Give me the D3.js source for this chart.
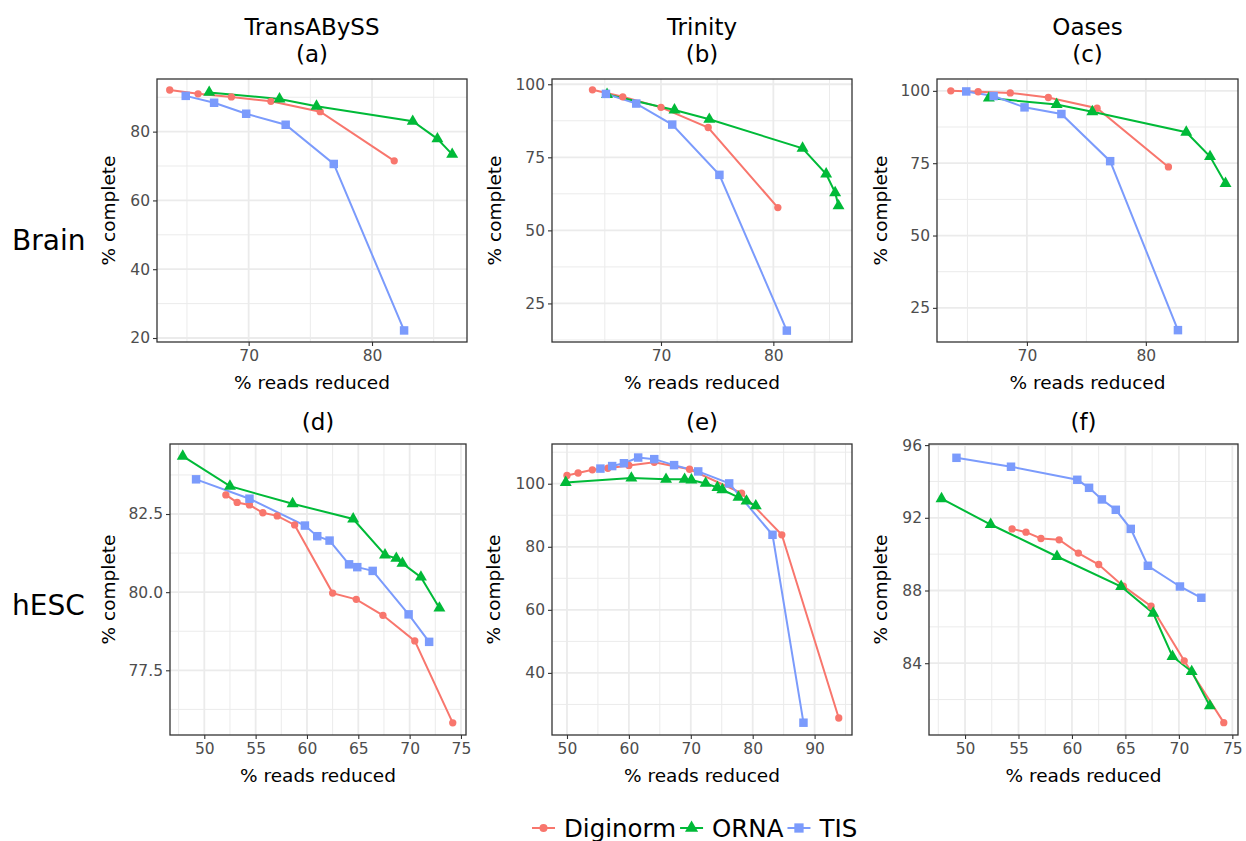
<!DOCTYPE html>
<html><head><meta charset="utf-8">
<script src="https://cdn.jsdelivr.net/npm/d3@7"></script>
<style>
body{margin:0;background:#fff}
svg{display:block}
text{font-family:"DejaVu Sans",sans-serif}
</style>
</head><body>
<svg id="chart" width="1246" height="841"></svg>
<script>
// ---------------- data ----------------
const methods = ["Diginorm", "ORNA", "TIS"];
const methodColors = ["#F8766D", "#00BA38", "#7B9BFC"];
const assemblers = ["TransABySS", "Trinity", "Oases"];
const tissues = ["Brain", "hESC"];
const panelLabels = ["(a)", "(b)", "(c)", "(d)", "(e)", "(f)"];
const xTitle = "% reads reduced";
const yTitle = "% complete";

// (a) TransABySS / Brain   [% reads reduced, % complete]
const aDiginorm = [[63.6,92.1],[65.9,91.0],[68.6,90.1],[71.8,88.8],[75.8,85.8],[81.8,71.5]];
const aORNA     = [[66.8,91.4],[72.5,89.5],[75.5,87.4],[83.3,83.0],[85.3,77.9],[86.5,73.4]];
const aTIS      = [[64.9,90.4],[67.2,88.4],[69.8,85.2],[73.0,82.0],[76.9,70.6],[82.6,22.2]];
// (b) Trinity / Brain
const bDiginorm = [[63.9,98.1],[66.6,95.7],[70.0,92.1],[74.2,85.2],[80.4,57.8]];
const bORNA     = [[65.2,96.5],[71.2,91.2],[74.3,88.0],[82.6,78.1],[84.7,69.3],[85.5,62.9],[85.8,58.4]];
const bTIS      = [[65.1,96.7],[67.8,93.4],[71.0,86.2],[75.2,69.0],[81.2,15.7]];
// (c) Oases / Brain
const cDiginorm = [[63.6,100.0],[65.9,99.7],[68.6,99.3],[71.8,97.7],[75.9,94.0],[81.9,73.7]];
const cORNA     = [[66.8,97.5],[72.5,95.3],[75.5,92.8],[83.4,85.7],[85.4,77.3],[86.7,68.0]];
const cTIS      = [[64.9,99.8],[67.2,98.2],[69.8,94.3],[72.9,92.0],[77.0,75.7],[82.7,17.3]];
// (d) TransABySS / hESC
const dDiginorm = [[52.1,83.11],[53.2,82.87],[54.4,82.79],[55.7,82.54],[57.1,82.44],[58.8,82.15],[62.5,79.97],[64.8,79.77],[67.4,79.26],[70.5,78.44],[74.2,75.82]];
const dORNA     = [[47.9,84.35],[52.5,83.39],[58.6,82.83],[64.5,82.34],[67.6,81.19],[68.7,81.08],[69.3,80.92],[71.1,80.48],[72.9,79.49]];
const dTIS      = [[49.2,83.61],[54.4,82.99],[59.8,82.13],[61.0,81.79],[62.2,81.65],[64.1,80.89],[64.9,80.80],[66.4,80.68],[69.9,79.29],[71.9,78.41]];
// (e) Trinity / hESC
const eDiginorm = [[50.0,102.6],[51.8,103.4],[54.1,104.4],[56.6,104.9],[60.0,105.8],[64.1,106.8],[69.8,104.6],[78.2,97.0],[84.7,83.8],[93.9,25.7]];
const eORNA     = [[49.8,100.4],[60.4,101.8],[66.0,101.4],[69.0,101.4],[70.1,101.2],[72.4,100.1],[74.3,98.8],[75.1,98.1],[77.7,95.7],[79.0,94.5],[80.5,93.0]];
const eTIS      = [[55.4,104.8],[57.3,105.6],[59.2,106.5],[61.5,108.3],[64.1,107.8],[67.3,105.9],[71.2,103.9],[76.2,100.1],[83.2,83.8],[88.2,24.2]];
// (f) Oases / hESC
const fDiginorm = [[54.4,91.39],[55.7,91.21],[57.1,90.86],[58.8,90.79],[60.6,90.06],[62.5,89.43],[64.8,88.24],[67.4,87.14],[70.5,84.13],[74.2,80.73]];
const fORNA     = [[47.8,93.05],[52.4,91.63],[58.6,89.87],[64.6,88.22],[67.6,86.75],[69.4,84.37],[71.2,83.54],[72.9,81.65]];
const fTIS      = [[49.2,95.30],[54.3,94.81],[60.5,94.09],[61.6,93.65],[62.8,93.01],[64.1,92.44],[65.5,91.39],[67.1,89.36],[70.1,88.22],[72.1,87.60]];

// axis limits and ticks
const xLimits = [[62.57,87.7],[60.3,87.0],[62.44,87.75],[46.66,75.49],[47.58,96.04],[46.63,75.53]];
const yLimits = [[18.84,95.3],[11.8,101.8],[13.2,104.1],[75.43,84.74],[20.3,112.6],[80.05,96.06]];
const xTicks = [[70,80],[70,80],[70,80],[50,55,60,65,70,75],[50,60,70,80,90],[50,55,60,65,70,75]];
const yTicks = [[20,40,60,80],[25,50,75,100],[25,50,75,100],[77.5,80.0,82.5],[40,60,80,100],[84,88,92,96]];
const yTickFormats = ["d","d","d",".1f","d","d"];

const panelSeries = [
  [aDiginorm, aORNA, aTIS],
  [bDiginorm, bORNA, bTIS],
  [cDiginorm, cORNA, cTIS],
  [dDiginorm, dORNA, dTIS],
  [eDiginorm, eORNA, eTIS],
  [fDiginorm, fORNA, fTIS]
];

// ---------------- layout ----------------
const boxes = [
  {l:157, t:79,  r:467,  b:342, ytx:115},
  {l:552, t:79,  r:852,  b:342, ytx:501},
  {l:937, t:79,  r:1238, b:342, ytx:887},
  {l:170, t:444, r:466,  b:735, ytx:115},
  {l:552, t:444, r:852,  b:735, ytx:500},
  {l:929, t:444, r:1238, b:735, ytx:887}
];
const FS = {tick:15.5, axis:18.5, title:23, row:28, legend:24.5};

const svg = d3.select("#chart");
const symbolTypes = [d3.symbolCircle, d3.symbolTriangle, d3.symbolSquare];
const symbolSizes = [42, 62, 72];

function minorBreaks(ticks, dom) {
  const step = ticks.length > 1 ? ticks[1] - ticks[0] : 10;
  const out = [];
  for (let v = ticks[0] - step / 2; v <= ticks[ticks.length - 1] + step / 2 + 1e-9; v += step) {
    if (v >= dom[0] && v <= dom[1]) out.push(v);
  }
  return out;
}

boxes.forEach((bx, i) => {
  const x = d3.scaleLinear().domain(xLimits[i]).range([bx.l, bx.r]);
  const y = d3.scaleLinear().domain(yLimits[i]).range([bx.b, bx.t]);
  const g = svg.append("g");

  g.append("rect").attr("x", bx.l).attr("y", bx.t).attr("width", bx.r - bx.l).attr("height", bx.b - bx.t).attr("fill", "#fff");

  const grid = g.append("g");
  minorBreaks(xTicks[i], xLimits[i]).forEach(v => grid.append("line")
    .attr("x1", x(v)).attr("x2", x(v)).attr("y1", bx.t).attr("y2", bx.b)
    .attr("stroke", "#ebebeb").attr("stroke-width", 1));
  minorBreaks(yTicks[i], yLimits[i]).forEach(v => grid.append("line")
    .attr("y1", y(v)).attr("y2", y(v)).attr("x1", bx.l).attr("x2", bx.r)
    .attr("stroke", "#ebebeb").attr("stroke-width", 1));
  xTicks[i].forEach(v => grid.append("line")
    .attr("x1", x(v)).attr("x2", x(v)).attr("y1", bx.t).attr("y2", bx.b)
    .attr("stroke", "#ebebeb").attr("stroke-width", 1.8));
  yTicks[i].forEach(v => grid.append("line")
    .attr("y1", y(v)).attr("y2", y(v)).attr("x1", bx.l).attr("x2", bx.r)
    .attr("stroke", "#ebebeb").attr("stroke-width", 1.8));

  const line = d3.line().x(d => x(d[0])).y(d => y(d[1]));
  panelSeries[i].forEach((s, k) => {
    g.append("path").attr("d", line(s)).attr("fill", "none")
      .attr("stroke", methodColors[k]).attr("stroke-width", 2);
  });
  panelSeries[i].forEach((s, k) => {
    const sym = d3.symbol().type(symbolTypes[k]).size(symbolSizes[k]);
    g.selectAll(null).data(s).enter().append("path")
      .attr("d", sym)
      .attr("transform", d => `translate(${x(d[0])},${y(d[1])})`)
      .attr("fill", methodColors[k]);
  });

  g.append("rect").attr("x", bx.l).attr("y", bx.t).attr("width", bx.r - bx.l).attr("height", bx.b - bx.t)
    .attr("fill", "none").attr("stroke", "#333333").attr("stroke-width", 1.3);

  const xAxis = d3.axisBottom(x).tickValues(xTicks[i]).tickSize(4).tickPadding(4).tickFormat(d3.format("d"));
  const yAxis = d3.axisLeft(y).tickValues(yTicks[i]).tickSize(4).tickPadding(3).tickFormat(d3.format(yTickFormats[i]));
  const gx = g.append("g").attr("transform", `translate(0,${bx.b})`).call(xAxis);
  const gy = g.append("g").attr("transform", `translate(${bx.l},0)`).call(yAxis);
  [gx, gy].forEach(a => {
    a.select(".domain").remove();
    a.selectAll(".tick line").attr("stroke", "#333333").attr("stroke-width", 1.1);
    a.selectAll(".tick text").attr("fill", "#4d4d4d").style("font-size", FS.tick + "px")
      .style("font-family", '"DejaVu Sans",sans-serif');
  });

  const cx = (bx.l + bx.r) / 2;
  g.append("text").attr("x", cx).attr("y", bx.b + 47).attr("text-anchor", "middle")
    .style("font-size", FS.axis + "px").attr("fill", "#000").text(xTitle);
  g.append("text").attr("transform", `translate(${bx.ytx},${(bx.t + bx.b) / 2}) rotate(-90)`)
    .attr("text-anchor", "middle").style("font-size", FS.axis + "px").attr("fill", "#000").text(yTitle);

  if (i < 3) {
    g.append("text").attr("x", cx).attr("y", 35).attr("text-anchor", "middle")
      .style("font-size", FS.title + "px").text(assemblers[i]);
    g.append("text").attr("x", cx).attr("y", 62).attr("text-anchor", "middle")
      .style("font-size", FS.title + "px").text(panelLabels[i]);
  } else {
    g.append("text").attr("x", cx).attr("y", 430).attr("text-anchor", "middle")
      .style("font-size", FS.title + "px").text(panelLabels[i]);
  }
});

svg.append("text").attr("x", 12).attr("y", 250).style("font-size", FS.row + "px").text(tissues[0]);
svg.append("text").attr("x", 12).attr("y", 615).style("font-size", FS.row + "px").text(tissues[1]);

// legend
const legend = svg.append("g");
let lx = 532;
const ly = 828;
methods.forEach((m, k) => {
  legend.append("line").attr("x1", lx).attr("x2", lx + 23).attr("y1", ly).attr("y2", ly)
    .attr("stroke", methodColors[k]).attr("stroke-width", 2);
  legend.append("path").attr("d", d3.symbol().type(symbolTypes[k]).size(symbolSizes[k] * 1.2)())
    .attr("transform", `translate(${lx + 11.5},${ly})`).attr("fill", methodColors[k]);
  const t = legend.append("text").attr("x", lx + 32).attr("y", ly + 8.5)
    .style("font-size", FS.legend + "px").text(m);
  lx += 32 + t.node().getComputedTextLength() + 4;
});
</script>
</body></html>
